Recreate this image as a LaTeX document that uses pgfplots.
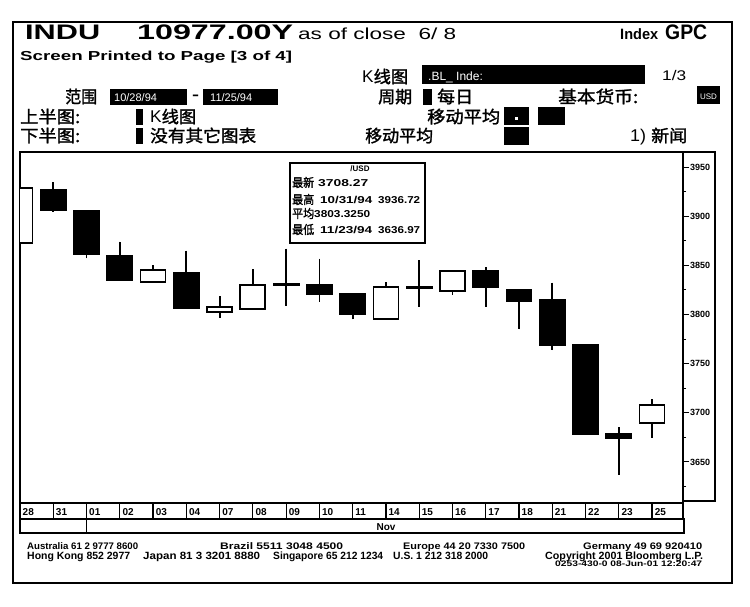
\documentclass[border=0pt]{standalone}
\usepackage{fontspec}
\setmainfont{Liberation Sans}
\newfontfamily\cjk{Noto Sans CJK SC}[FakeBold=1.5]
\usepackage{graphicx}
\usepackage{pgfplots}
\pgfplotsset{compat=1.18}
\usepgfplotslibrary{statistics}
\newlength\fitlen
\newcommand\fitw[2]{\settowidth\fitlen{#2}\pgfmathsetmacro\fitsx{#1/\fitlen}\scalebox{\fitsx}[1]{#2}}
\newcommand\T[5]{\node[anchor=base west,inner sep=0pt] at (#1,#2) {\fitw{#3}{\fontsize{#4}{#4}\selectfont #5}};}
\begin{document}
\begin{tikzpicture}
\begin{scope}[x=1pt,y=-1pt,yshift=606pt]
\fill[white] (0,0) rectangle (750,606);
\useasboundingbox (0,0) rectangle (750,606);
% outer frame
\draw[line width=1.2pt] (13,22) rectangle (732,583);
% header row 1
\T{25}{40}{75}{21}{\bfseries INDU}
\T{137}{40}{156}{21}{\bfseries 10977.00Y}
\T{298}{40}{158}{16}{as of close\ \ 6/ 8}
\T{620}{40}{38}{15}{\bfseries Index}
\T{665}{40}{42}{21}{\bfseries GPC}
\T{20}{61}{272}{13}{\bfseries Screen Printed to Page [3 of 4]}
% row 3
\T{362}{83}{46}{17}{K{\cjk 线图}}
\fill[black] (422,65) rectangle (645,84);
\node[anchor=base west,inner sep=0pt,text=white] at (428,81) {\fontsize{12}{12}\selectfont .BL\_ Inde:};
\T{662}{81}{24}{14}{1/3}
% row 4
\T{65}{103}{32}{17}{\cjk 范围}
\fill[black] (110,89) rectangle (187,105);
\node[anchor=base west,inner sep=0pt,text=white] at (114,102) {\fontsize{11}{11}\selectfont 10/28/94};
\T{192}{100}{7}{14}{\bfseries -}
\fill[black] (203,89) rectangle (278,105);
\node[anchor=base west,inner sep=0pt,text=white] at (210,102) {\fontsize{11}{11}\selectfont 11/25/94};
\T{378}{103}{34}{17}{\cjk 周期}
\fill[black] (423,89) rectangle (432,105);
\T{437}{103}{36}{17}{\cjk 每日}
\T{558}{103}{80}{17}{\cjk 基本货币:}
\fill[black] (697,86) rectangle (720,104);
\node[anchor=base,inner sep=0pt,text=white] at (708.5,100) {\fontsize{8}{8}\selectfont USD};
% row 5
\T{20}{123}{60}{17}{\cjk 上半图:}
\fill[black] (136,109) rectangle (143,125);
\T{150}{123}{46}{17}{K{\cjk 线图}}
\T{427}{123}{73}{17}{\cjk 移动平均}
\fill[black] (504,107) rectangle (529,125);
\fill[white] (515,117) rectangle (518,120);
\fill[black] (538,107) rectangle (565,125);
% row 6
\T{20}{142}{60}{17}{\cjk 下半图:}
\fill[black] (136,128) rectangle (143,144);
\T{150}{142}{106}{17}{\cjk 没有其它图表}
\T{365}{142}{68}{17}{\cjk 移动平均}
\fill[black] (504,127) rectangle (529,145);
\T{630}{142}{57}{17}{1) {\cjk 新闻}}
% right panel
\draw[line width=1.2pt] (683,152) -- (715,152) -- (715,501) -- (683,501);
% date strip
\draw[line width=1.2pt] (20,503) rectangle (683,519);
\foreach \i/\lab in {0/28,1/31,2/01,3/02,4/03,5/04,6/07,7/08,8/09,9/10,10/11,11/14,12/15,13/16,14/17,15/18,16/21,17/22,18/23,19/25}{
  \draw[line width=1.2pt] ({20+33.267*\i},503) -- ({20+33.267*\i},519);
  \node[anchor=base west,inner sep=0pt] at ({22.5+33.267*\i},515.5) {\fontsize{10}{10}\bfseries\selectfont\lab};
}
\draw[line width=1.2pt] (20,519) rectangle (684,533);
\draw[line width=1.2pt] (86.5,519) -- (86.5,533);
\node[anchor=base,inner sep=0pt] at (386,530) {\fontsize{10}{10}\bfseries\selectfont Nov};
% footer
\T{27}{549}{111}{9.5}{\bfseries Australia 61 2 9777 8600}
\T{220}{549}{123}{9.5}{\bfseries Brazil 5511 3048 4500}
\T{403}{549}{122}{9.5}{\bfseries Europe 44 20 7330 7500}
\T{583}{549}{119}{9.5}{\bfseries Germany 49 69 920410}
\T{27}{559}{103}{10.5}{\bfseries Hong Kong 852 2977}
\T{143}{559}{117}{10.5}{\bfseries Japan 81 3 3201 8880}
\T{273}{559}{110}{10.5}{\bfseries Singapore 65 212 1234}
\T{393}{559}{95}{10.5}{\bfseries U.S. 1 212 318 2000}
\T{545}{559}{158}{10.5}{\bfseries Copyright 2001 Bloomberg L.P.}
\T{555}{566}{147}{8}{\bfseries 0253-430-0 08-Jun-01 12:20:47}
\end{scope}

\begin{axis}[
  at={(20pt,103pt)}, anchor=south west, scale only axis,
  width=663pt, height=351pt,
  xmin=0, xmax=19.93, ymin=3608.2, ymax=3965.3,
  xtick=\empty,
  ytick={3650,3700,3750,3800,3850,3900,3950},
  minor ytick={3625,3675,3725,3775,3825,3875,3925},
  ytick pos=right, yticklabel pos=right,
  tick align=outside,
  major tick length=6pt, minor tick length=3pt,
  every tick/.style={black, line width=1pt},
  axis line style={line width=1.6pt},
  yticklabel style={font=\bfseries\fontsize{9}{9}\selectfont, inner sep=1pt},
  /pgf/number format/1000 sep={},
  /pgf/number format/assume math mode=true,
  boxplot/draw direction=y,
  boxplot/box extend=0.75,
  boxplot/whisker extend=0,
  cs/.style={solid, draw=black, line width=1.8pt},
  up/.style={cs, fill=white, /pgfplots/boxplot/every box/.style={draw=black, fill=white}},
  dn/.style={cs, fill=black, /pgfplots/boxplot/every box/.style={draw=black, fill=black}},
]
\addplot[up, boxplot prepared={draw position=0, lower whisker=3872.5, lower quartile=3873, median=3873, upper quartile=3929, upper whisker=3929.5}] coordinates {};
\addplot[dn, boxplot prepared={draw position=1, lower whisker=3904.5, lower quartile=3906, median=3906, upper quartile=3927, upper whisker=3934.5}] coordinates {};
\addplot[dn, boxplot prepared={draw position=2, lower whisker=3857, lower quartile=3861.5, median=3861.5, upper quartile=3905.5, upper whisker=3906}] coordinates {};
\addplot[dn, boxplot prepared={draw position=3, lower whisker=3835, lower quartile=3835, median=3835, upper quartile=3860, upper whisker=3874}] coordinates {};
\addplot[up, boxplot prepared={draw position=4, lower whisker=3831.7, lower quartile=3833.3, median=3833.3, upper quartile=3845.2, upper whisker=3850.3}] coordinates {};
\addplot[dn, boxplot prepared={draw position=5, lower whisker=3806, lower quartile=3806.3, median=3806.3, upper quartile=3842, upper whisker=3865}] coordinates {};
\addplot[up, boxplot prepared={draw position=6, lower whisker=3796.1, lower quartile=3802.2, median=3802.2, upper quartile=3807.9, upper whisker=3818.8}] coordinates {};
\addplot[up, boxplot prepared={draw position=7, lower whisker=3805, lower quartile=3805.5, median=3805.5, upper quartile=3829.7, upper whisker=3846}] coordinates {};
\addplot[dn, boxplot prepared={draw position=8, lower whisker=3809, lower quartile=3829.8, median=3829.8, upper quartile=3831, upper whisker=3867}] coordinates {};
\addplot[dn, boxplot prepared={draw position=9, lower whisker=3812.7, lower quartile=3820.8, median=3820.8, upper quartile=3830.3, upper whisker=3856.7}] coordinates {};
\addplot[dn, boxplot prepared={draw position=10, lower whisker=3795.1, lower quartile=3800.2, median=3800.2, upper quartile=3820.8, upper whisker=3821}] coordinates {};
\addplot[up, boxplot prepared={draw position=11, lower whisker=3795, lower quartile=3795.1, median=3795.1, upper quartile=3828.3, upper whisker=3833.3}] coordinates {};
\addplot[dn, boxplot prepared={draw position=12, lower whisker=3807.9, lower quartile=3826.7, median=3826.7, upper quartile=3828, upper whisker=3855.4}] coordinates {};
\addplot[up, boxplot prepared={draw position=13, lower whisker=3819.8, lower quartile=3823.9, median=3823.9, upper quartile=3844.2, upper whisker=3844.5}] coordinates {};
\addplot[dn, boxplot prepared={draw position=14, lower whisker=3807.9, lower quartile=3827.6, median=3827.6, upper quartile=3844.5, upper whisker=3848}] coordinates {};
\addplot[dn, boxplot prepared={draw position=15, lower whisker=3784.9, lower quartile=3813.7, median=3813.7, upper quartile=3824.9, upper whisker=3825}] coordinates {};
\addplot[dn, boxplot prepared={draw position=16, lower whisker=3763.8, lower quartile=3768.9, median=3768.9, upper quartile=3814.7, upper whisker=3832.3}] coordinates {};
\addplot[dn, boxplot prepared={draw position=17, lower whisker=3678, lower quartile=3678.4, median=3678.4, upper quartile=3768.9, upper whisker=3769}] coordinates {};
\addplot[dn, boxplot prepared={draw position=18, lower whisker=3637, lower quartile=3674, median=3674, upper quartile=3678.1, upper whisker=3685.2}] coordinates {};
\addplot[up, boxplot prepared={draw position=19, lower whisker=3674, lower quartile=3689.9, median=3689.9, upper quartile=3708.3, upper whisker=3714}] coordinates {};
\end{axis}

\begin{scope}[x=1pt,y=-1pt,yshift=606pt]
% info box
\draw[line width=1.5pt, fill=white] (290,163) rectangle (425,243);
\node[anchor=base,inner sep=0pt] at (360,172) {\fontsize{8}{8}\bfseries\selectfont /USD};
\T{292}{187}{22}{12}{\cjk 最新}
\T{318}{187}{50}{10}{\bfseries 3708.27}
\T{292}{204}{22}{12}{\cjk 最高}
\T{320}{204}{52}{10}{\bfseries 10/31/94}
\T{378}{204}{42}{10}{\bfseries 3936.72}
\T{292}{218}{22}{12}{\cjk 平均}
\T{314}{218}{56}{10}{\bfseries 3803.3250}
\T{292}{234}{22}{12}{\cjk 最低}
\T{320}{234}{52}{10}{\bfseries 11/23/94}
\T{378}{234}{42}{10}{\bfseries 3636.97}
\end{scope}
\end{tikzpicture}
\end{document}
